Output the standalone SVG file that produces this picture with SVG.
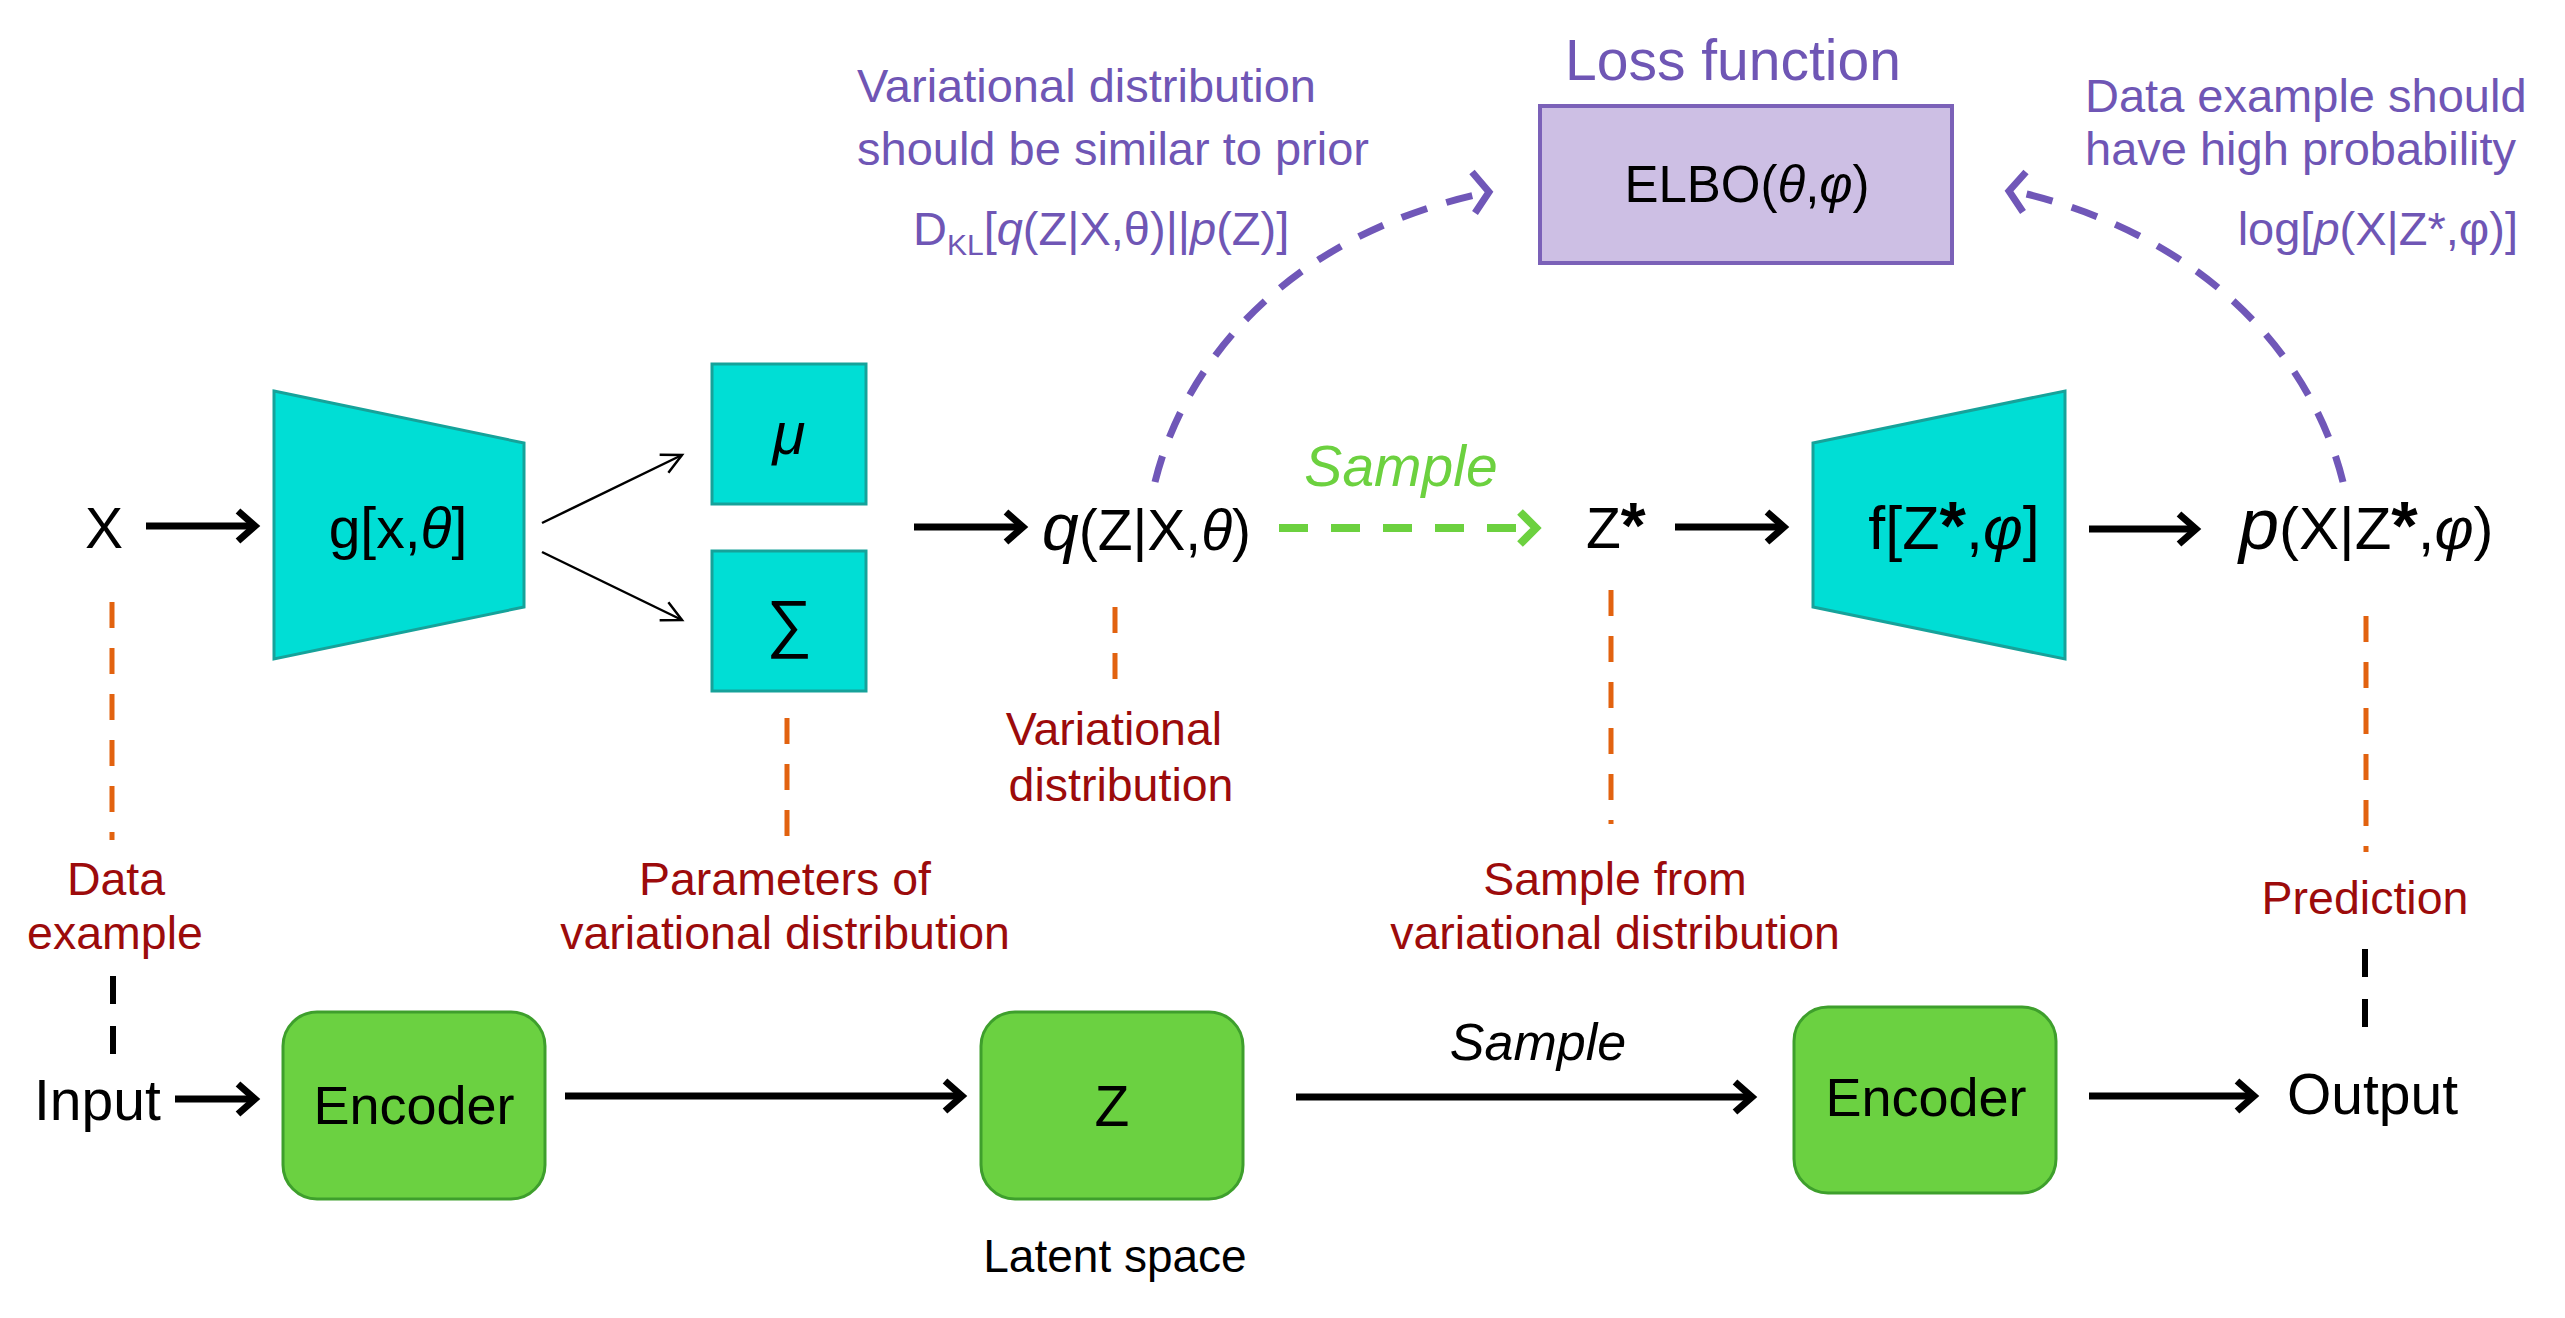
<svg xmlns="http://www.w3.org/2000/svg" width="2565" height="1318" viewBox="0 0 2565 1318">
<style>
text{font-family:"Liberation Sans",Arial,sans-serif;}
.big{font-size:57px;fill:#000;}
.purple{font-size:47px;fill:#6F56B5;}
.red{font-size:46.5px;fill:#9C0B0B;text-anchor:middle;}
.it{font-style:italic;}
.teal{fill:#00DED5;stroke:#16A29A;stroke-width:3;}
.green{fill:#6BD141;stroke:#3E9F2C;stroke-width:3;}
.arr{stroke:#000;stroke-width:7;fill:none;marker-end:url(#ah);}
.thin{stroke:#000;stroke-width:2.5;fill:none;marker-end:url(#ahThin);}
.orange{stroke:#E2620F;stroke-width:5;stroke-dasharray:26 20;fill:none;}
.bdash{stroke:#000;stroke-width:6;stroke-dasharray:28 22;fill:none;}
.pdash{stroke:#7057B8;stroke-width:7;stroke-dasharray:27 20;fill:none;}
.phead{stroke:#7057B8;stroke-width:7;fill:none;}
</style>
<defs>
<marker id="ah" markerUnits="userSpaceOnUse" viewBox="-30 -25 40 50" markerWidth="40" markerHeight="50" refX="0" refY="0" orient="auto" overflow="visible">
<path d="M-17,-15 L0,0 L-17,15" fill="none" stroke="#000" stroke-width="7"/>
</marker>
<marker id="ahThin" markerUnits="userSpaceOnUse" viewBox="-30 -20 40 40" markerWidth="40" markerHeight="40" refX="0" refY="0" orient="auto" overflow="visible">
<path d="M-20,-10 L0,0 L-20,10" fill="none" stroke="#000" stroke-width="2.5"/>
</marker>
<marker id="ahGreen" markerUnits="userSpaceOnUse" viewBox="-30 -25 40 50" markerWidth="40" markerHeight="50" refX="0" refY="0" orient="auto" overflow="visible">
<path d="M-16,-16 L0,0 L-16,16" fill="none" stroke="#6CD13F" stroke-width="8"/>
</marker>
</defs>
<rect width="2565" height="1318" fill="#fff"/>

<g id="connectors">
<line class="arr" x1="146" y1="526" x2="255" y2="526"/>
<line class="thin" x1="542" y1="523" x2="682" y2="455"/>
<line class="thin" x1="542" y1="552" x2="682" y2="620"/>
<line class="arr" x1="914" y1="527" x2="1023" y2="527"/>
<line x1="1279" y1="528" x2="1536" y2="528" stroke="#6CD13F" stroke-width="8" stroke-dasharray="29 23" marker-end="url(#ahGreen)"/>
<line class="arr" x1="1675" y1="527" x2="1784" y2="527"/>
<line class="arr" x1="2089" y1="529" x2="2196" y2="529"/>
<line class="arr" x1="175" y1="1099" x2="255" y2="1099"/>
<line class="arr" x1="565" y1="1096" x2="962" y2="1096"/>
<line class="arr" x1="1296" y1="1097" x2="1752" y2="1097"/>
<line class="arr" x1="2089" y1="1096" x2="2254" y2="1096"/>
<path class="pdash" d="M1155,482 C1185,360 1290,235 1484,193"/>
<polyline class="phead" points="1472,172 1489,192 1475,213"/>
<path class="pdash" d="M2343,482 C2313,360 2208,235 2014,191"/>
<polyline class="phead" points="2026,172 2009,191 2023,212"/>
<line class="orange" x1="112" y1="602" x2="112" y2="840"/>
<line class="orange" x1="787" y1="718" x2="787" y2="842"/>
<line class="orange" x1="1115" y1="607" x2="1115" y2="680"/>
<line class="orange" x1="1611" y1="590" x2="1611" y2="824"/>
<line class="orange" x1="2366" y1="616" x2="2366" y2="852"/>
<line class="bdash" x1="113" y1="976" x2="113" y2="1056"/>
<line class="bdash" x1="2365" y1="949" x2="2365" y2="1030"/>
</g>

<g id="loss">
<text x="1733" y="80" font-size="57" fill="#6F56B5" text-anchor="middle">Loss function</text>
<rect x="1540" y="106" width="412" height="157" fill="#CDBFE4" stroke="#7B61B8" stroke-width="4"/>
<text x="1747" y="202" font-size="51" text-anchor="middle">ELBO(<tspan class="it">θ</tspan>,<tspan class="it">φ</tspan>)</text>
</g>

<g id="kl-note">
<text class="purple" x="857" y="102">Variational distribution</text>
<text class="purple" x="857" y="165">should be similar to prior</text>
<text class="purple" x="913" y="245">D<tspan font-size="30" dy="10">KL</tspan><tspan dy="-10">[</tspan><tspan class="it">q</tspan>(Z|X,θ)||<tspan class="it">p</tspan>(Z)]</text>
</g>

<g id="lik-note">
<text class="purple" x="2085" y="112">Data example should</text>
<text class="purple" x="2085" y="165">have high probability</text>
<text class="purple" x="2518" y="245" text-anchor="end">log[<tspan class="it">p</tspan>(X|Z*,φ)]</text>
</g>

<g id="x-node"><text class="big" x="104" y="548" text-anchor="middle">X</text></g>

<g id="g-net">
<polygon class="teal" points="274,391 524,443 524,607 274,659" stroke-width="2"/>
<text class="big" x="398" y="548" text-anchor="middle">g[x,<tspan class="it">θ</tspan>]</text>
</g>

<g id="mu">
<rect class="teal" x="712" y="364" width="154" height="140"/>
<text x="789" y="454" font-size="60" class="it" text-anchor="middle">μ</text>
</g>

<g id="sigma">
<rect class="teal" x="712" y="551" width="154" height="140"/>
<text x="789" y="645" font-size="64" text-anchor="middle">∑</text>
</g>

<g id="q-node">
<text class="big" x="1042" y="550"><tspan class="it" font-size="66">q</tspan>(Z|X,<tspan class="it">θ</tspan>)</text>
</g>

<g id="sample-label"><text x="1401" y="486" font-size="57" class="it" fill="#6CD13F" text-anchor="middle">Sample</text></g>

<g id="zstar"><text class="big" x="1586" y="548">Z<tspan font-weight="bold" font-size="64">*</tspan></text></g>

<g id="f-net">
<polygon class="teal" points="1813,443 2065,391 2065,659 1813,607" stroke-width="2"/>
<text x="1954" y="549" font-size="61" text-anchor="middle">f[Z<tspan font-weight="bold" font-size="68">*</tspan>,<tspan class="it">φ</tspan>]</text>
</g>

<g id="p-node">
<text x="2239" y="549" font-size="60"><tspan class="it" font-size="72">p</tspan>(X|Z<tspan font-weight="bold" font-size="68">*</tspan>,<tspan class="it">φ</tspan>)</text>
</g>

<g id="labels">
<text class="red" x="116" y="895">Data</text>
<text class="red" x="115" y="949">example</text>
<text class="red" x="785" y="895">Parameters of</text>
<text class="red" x="785" y="949">variational distribution</text>
<text class="red" x="1114" y="745">Variational</text>
<text class="red" x="1121" y="801">distribution</text>
<text class="red" x="1615" y="895">Sample from</text>
<text class="red" x="1615" y="949">variational distribution</text>
<text class="red" x="2365" y="914">Prediction</text>
</g>

<g id="input"><text class="big" x="34" y="1120">Input</text></g>

<g id="encoder1">
<rect class="green" x="283" y="1012" width="262" height="187" rx="34"/>
<text x="414" y="1124" font-size="54" text-anchor="middle">Encoder</text>
</g>

<g id="z-latent">
<rect class="green" x="981" y="1012" width="262" height="187" rx="34"/>
<text class="big" x="1112" y="1126" text-anchor="middle">Z</text>
<text x="1115" y="1272" font-size="46" text-anchor="middle">Latent space</text>
</g>

<g id="sample-bottom"><text x="1538" y="1060" font-size="52" class="it" text-anchor="middle">Sample</text></g>

<g id="encoder2">
<rect class="green" x="1794" y="1007" width="262" height="186" rx="34"/>
<text x="1926" y="1116" font-size="54" text-anchor="middle">Encoder</text>
</g>

<g id="output"><text class="big" x="2287" y="1114">Output</text></g>
</svg>
